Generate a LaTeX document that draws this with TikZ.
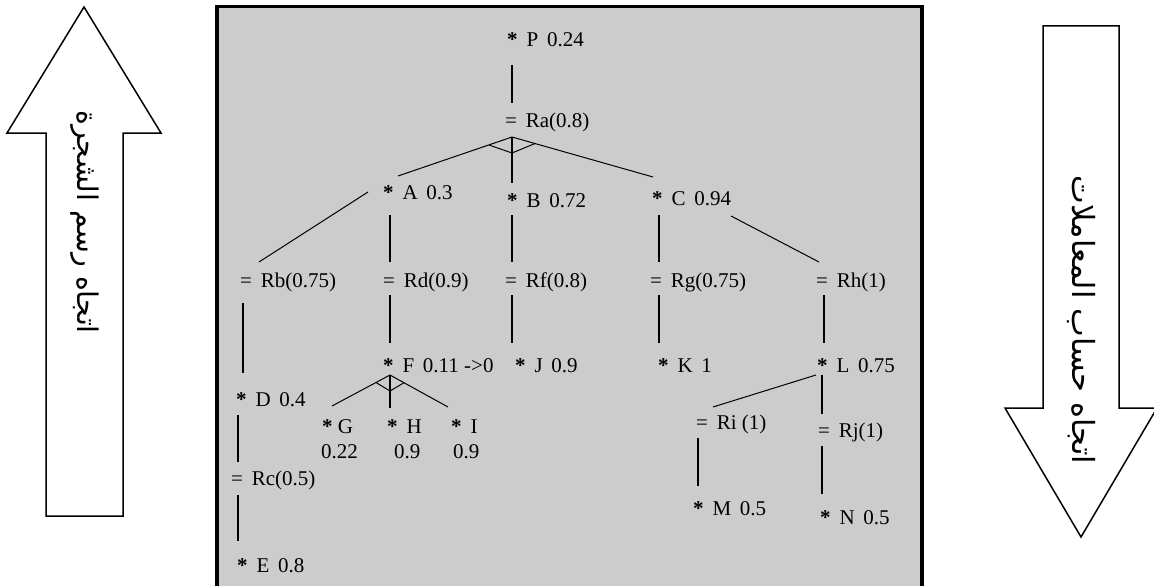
\documentclass[tikz,border=0pt]{standalone}
\usepackage{fontspec}
\setmainfont{Liberation Serif}
\newfontfamily\arabicfont[Script=Arabic]{DejaVu Sans}
\TeXXeTstate=1
\usetikzlibrary{calc}
\definecolor{panelgray}{RGB}{204,204,204}
\newcommand\gp{\hspace{0.42em}}
\newcommand\st{\textbf{*}}

\begin{document}
\begin{tikzpicture}[x=1pt,y=-1pt,
  lbl/.style={anchor=base west, inner sep=0pt, font=\fontsize{21}{25}\selectfont},
  link/.style={line width=1.6pt},
  slant/.style={line width=1pt},
  dirarrow/.style={draw=black, fill=white, line width=1.5pt, line join=miter},
  dirtext/.style={rotate=-90, inner sep=0pt, font=\arabicfont\fontsize{28.5}{32}\selectfont}]

\fill[white] (0,0) rectangle (1154,586);
\useasboundingbox (0,0) rectangle (1154,586);

% grey panel holding the tree
\draw[line width=3.5pt, fill=panelgray] (217,6.5) rectangle (922,600);

% direction arrows
\draw[dirarrow] (84,7) -- (161,133) -- (123,133) -- (123,516) -- (46,516) -- (46,133) -- (7,133) -- cycle;
\draw[dirarrow] (1043,26) -- (1119,26) -- (1119,408) -- (1157,408) -- (1081,537) -- (1005,408) -- (1043,408) -- cycle;
\node[dirtext] (up) at (85,222) {\beginR اتجاه رسم الشجرة\endR};
\node[dirtext, font=\arabicfont\fontsize{30.5}{34}\selectfont] (down) at (1081,320) {\beginR اتجاه حساب المعاملات\endR};

% tree labels
\node[lbl] (P)  at (507,47)  {\st\gp P\gp 0.24};
\node[lbl] (Ra) at (505,127) {=\gp Ra(0.8)};
\node[lbl] (A)  at (383,199) {\st\gp A\gp 0.3};
\node[lbl] (B)  at (507,207) {\st\gp B\gp 0.72};
\node[lbl] (C)  at (652,205) {\st\gp C\gp 0.94};
\node[lbl] (Rb) at (240,287) {=\gp Rb(0.75)};
\node[lbl] (Rd) at (383,287) {=\gp Rd(0.9)};
\node[lbl] (Rf) at (505,287) {=\gp Rf(0.8)};
\node[lbl] (Rg) at (650,287) {=\gp Rg(0.75)};
\node[lbl] (Rh) at (816,287) {=\gp Rh(1)};
\node[lbl] (F)  at (383,372) {\st\gp F\gp 0.11 ->0};
\node[lbl] (J)  at (515,372) {\st\gp J\gp 0.9};
\node[lbl] (K)  at (658,372) {\st\gp K\gp 1};
\node[lbl] (L)  at (817,372) {\st\gp L\gp 0.75};
\node[lbl] (D)  at (236,406) {\st\gp D\gp 0.4};
\node[lbl] (G)  at (322,433) {\st{} G};
\node[lbl] (Gv) at (321,458) {0.22};
\node[lbl] (H)  at (387,433) {\st\gp H};
\node[lbl] (Hv) at (394,458) {0.9};
\node[lbl] (I)  at (451,433) {\st\gp I};
\node[lbl] (Iv) at (453,458) {0.9};
\node[lbl] (Rc) at (231,485) {=\gp Rc(0.5)};
\node[lbl] (E)  at (237,572) {\st\gp E\gp 0.8};
\node[lbl] (Ri) at (696,429) {=\gp Ri (1)};
\node[lbl] (Rj) at (818,437) {=\gp Rj(1)};
\node[lbl] (M)  at (693,515) {\st\gp M\gp 0.5};
\node[lbl] (N)  at (820,524) {\st\gp N\gp 0.5};

% junction points of the AND branches
\coordinate (raJ) at ([shift={(7,10)}]Ra.base west);
\coordinate (fJ)  at ([shift={(7,3)}]F.base west);

% connectors
\draw[link] ([shift={(5,18)}]P.base west) -- ([shift={(7,-24)}]Ra.base west);
\draw[slant] (raJ) -- ([shift={(15,-23)}]A.base west);
\draw[link]  (raJ) -- ([shift={(5,-24)}]B.base west);
\draw[slant] (raJ) -- ([shift={(1,-28)}]C.base west);
\draw[slant] ([shift={(-23,8)}]raJ) -- ([shift={(0,16)}]raJ) -- ([shift={(23,6.5)}]raJ);

\draw[slant] ([shift={(-15,-7)}]A.base west) -- ([shift={(19,-25)}]Rb.base west);
\draw[link]  ([shift={(7,16)}]A.base west) -- ([shift={(7,-25)}]Rd.base west);
\draw[link]  ([shift={(5,8)}]B.base west) -- ([shift={(7,-25)}]Rf.base west);
\draw[link]  ([shift={(7,10)}]C.base west) -- ([shift={(9,-25)}]Rg.base west);
\draw[slant] ([shift={(79,11)}]C.base west) -- ([shift={(3,-25)}]Rh.base west);

\draw[link] ([shift={(3,16)}]Rb.base west) -- ([shift={(7,-33)}]D.base west);
\draw[link] ([shift={(7,8)}]Rd.base west) -- ([shift={(7,-29)}]F.base west);
\draw[link] ([shift={(7,8)}]Rf.base west) -- ([shift={(-3,-29)}]J.base west);
\draw[link] ([shift={(9,8)}]Rg.base west) -- ([shift={(1,-29)}]K.base west);
\draw[link] ([shift={(8,8)}]Rh.base west) -- ([shift={(7,-29)}]L.base west);

\draw[slant] (fJ) -- ([shift={(10,-27)}]G.base west);
\draw[link]  (fJ) -- ([shift={(3,-25)}]H.base west);
\draw[slant] (fJ) -- ([shift={(-3,-26)}]I.base west);
\draw[slant] ([shift={(-14,7.5)}]fJ) -- ([shift={(0,16)}]fJ) -- ([shift={(14,7.7)}]fJ);

\draw[link] ([shift={(2,9)}]D.base west) -- ([shift={(7,-23)}]Rc.base west);
\draw[link] ([shift={(7,10)}]Rc.base west) -- ([shift={(1,-31)}]E.base west);

\draw[slant] ([shift={(-1,3)}]L.base west) -- ([shift={(17,-22)}]Ri.base west);
\draw[link]  ([shift={(5,3)}]L.base west) -- ([shift={(4,-23)}]Rj.base west);
\draw[link]  ([shift={(2,9)}]Ri.base west) -- ([shift={(5,-29)}]M.base west);
\draw[link]  ([shift={(4,9)}]Rj.base west) -- ([shift={(2,-30)}]N.base west);
\end{tikzpicture}
\end{document}
